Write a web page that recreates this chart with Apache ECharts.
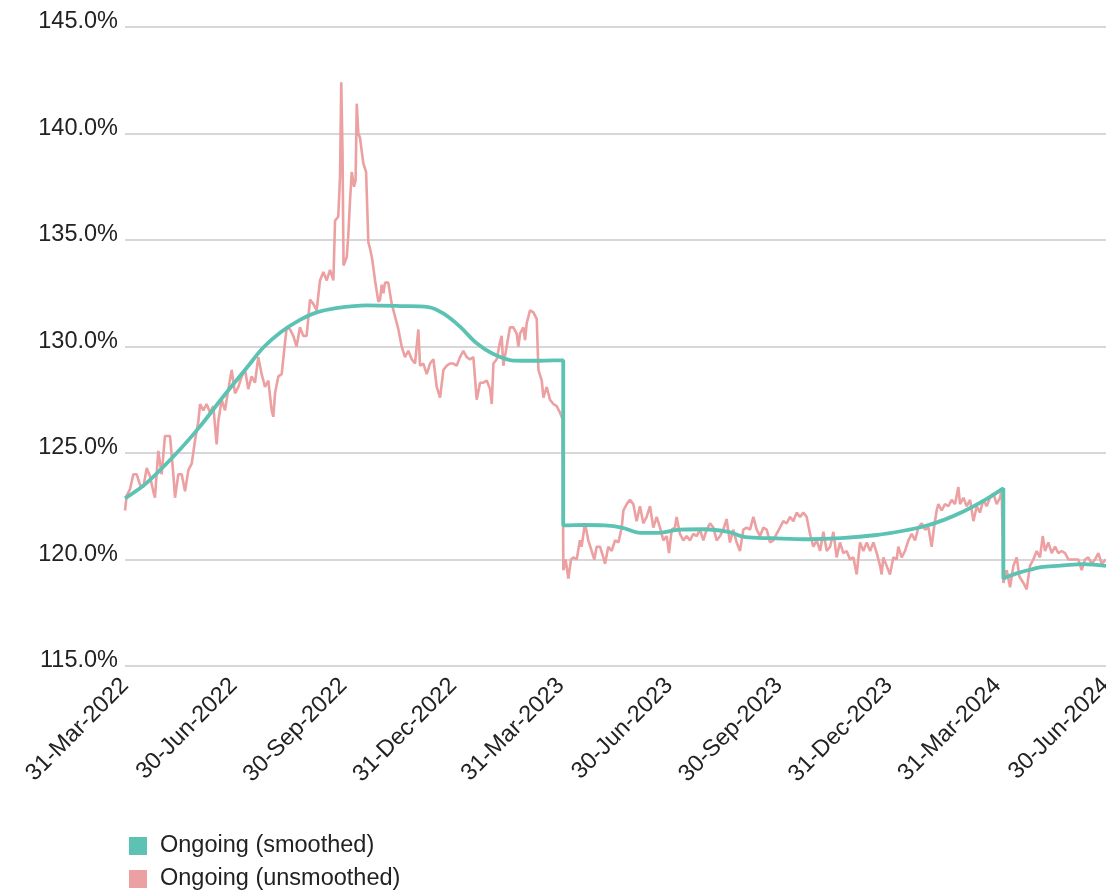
<!DOCTYPE html>
<html>
<head>
<meta charset="utf-8">
<script src="https://cdn.jsdelivr.net/npm/echarts@6/dist/echarts.min.js"></script>
<style>
html,body{margin:0;padding:0;background:#fff;}
#chart{width:1106px;height:894px;}
</style>
</head>
<body>
<div id="chart"></div>
<script>
// Day offsets are counted from 31-Mar-2022 (day 0).
const startDate = [2022, 2, 31];
const tickDays = [0, 91, 183, 275, 365, 456, 548, 640, 731, 822];
const monthNames = ['Jan','Feb','Mar','Apr','May','Jun','Jul','Aug','Sep','Oct','Nov','Dec'];
const yTicks = [115, 120, 125, 130, 135, 140, 145];
const seriesNames = ['Ongoing (smoothed)', 'Ongoing (unsmoothed)'];

// [day offset, value %]
const smoothed = [
[0,122.87],[18.2,123.6],[43.3,125.0],[62.9,126.25],[82.4,127.65],[102,129.0],[115.9,129.95],[129.9,130.65],
[146.6,131.25],[160.6,131.6],[174.6,131.78],[202.5,131.93],[230.5,131.9],[254.2,131.85],[266.7,131.55],[280.7,130.93],
[294.7,130.15],[308.6,129.65],[325.4,129.34],[345,129.33],[358.9,129.35],[366,129.35],[367.2,129.35],[367.2,121.6],
[368.5,121.6],[385,121.62],[402.2,121.6],[416.2,121.5],[432,121.25],[445,121.25],[465,121.4],[485,121.42],
[505.5,121.3],[520,121.05],[541.8,121.0],[572.6,120.95],[600,121.0],[629.9,121.15],[652.2,121.35],[669,121.55],
[685.7,121.85],[702.5,122.25],[719.2,122.75],[734.8,123.3],[736,123.35],[736,119.1],[737.5,119.15],[747.2,119.35],
[758.3,119.52],[769.5,119.65],[786.3,119.72],[803,119.78],[822,119.7]
];

const unsmoothed = [
[0,122.3],[1.4,123.0],[4.2,123.3],[7,124.0],[9.8,124.0],[12.6,123.5],[15.4,123.4],[18.2,124.3],[21,123.9],[23.7,123.2],
[25.1,122.9],[27.9,125.1],[30.7,124.0],[33.5,125.8],[37.7,125.8],[40.5,124.0],[41.9,122.9],[44.7,124.0],[47.5,124.0],[50.3,123.2],
[53.1,124.2],[55.9,124.5],[58.7,125.6],[61.5,126.5],[62.9,127.3],[65.6,127.0],[68.4,127.3],[71.2,126.9],[74,127.2],[76.8,125.4],
[78.2,126.5],[81,127.5],[83.8,127.0],[86.6,128.0],[89.4,128.9],[92.2,127.8],[95,128.1],[97.8,128.6],[100.6,128.9],[103.3,128.0],
[106.1,128.6],[108.9,128.3],[111.7,129.5],[114.5,128.7],[117.3,128.1],[120.1,128.4],[122.9,127.0],[124.3,126.7],[125.7,127.8],[128.5,128.6],
[131.3,128.7],[134.1,130.2],[135.5,130.9],[138.3,130.8],[141,130.5],[143.8,130.0],[146.6,130.9],[149.4,130.5],[152.2,130.5],[155,132.2],
[157.8,132.0],[160.6,131.7],[163.4,133.1],[166.2,133.5],[169,133.1],[171.8,133.6],[174.6,133.1],[176,135.9],[178.7,136.1],[180.2,138.0],
[181.2,142.4],[182.3,139.0],[183.1,133.8],[185.8,134.2],[187.1,135.2],[188.6,136.9],[190,138.2],[191.9,137.5],[193.2,137.8],[194.2,141.4],
[195.5,140.0],[196.9,139.8],[199.7,138.6],[202,138.2],[203.9,134.9],[205.3,134.6],[206.8,134.2],[208.1,133.7],[209.5,133.1],[210.9,132.6],
[212.3,132.1],[213.7,132.2],[215.1,132.9],[216.5,132.5],[217.9,133.0],[220.6,133.0],[223.5,132.0],[226.3,131.4],[229.1,130.8],[231.8,130.0],
[234.6,129.5],[237.4,129.8],[240.2,129.4],[243,129.2],[245.8,130.8],[247.2,129.1],[250,129.2],[252.8,128.7],[255.6,129.2],[258.4,129.4],
[261.2,128.1],[264,127.6],[266.8,128.9],[269.6,129.1],[272.3,129.2],[275.1,129.2],[277.9,129.1],[280.7,129.5],[283.5,129.8],[286.3,129.5],
[289.1,129.4],[291.9,129.5],[294.7,127.5],[297.5,128.3],[300.3,128.3],[303.1,128.4],[305.9,128.0],[307.3,127.3],[308.7,129.2],[311.5,129.4],
[314.2,130.2],[315.6,130.5],[317,129.1],[319.8,130.0],[322.6,130.9],[325.4,130.9],[328.2,130.6],[329.6,130.0],[331,130.6],[333.8,130.9],
[335.2,130.3],[336.6,131.1],[339.4,131.7],[342.2,131.6],[345,131.3],[346.4,128.9],[349.2,128.4],[350.6,127.6],[353.4,128.1],[356.1,127.5],
[358.9,127.3],[361.7,127.2],[364.5,126.9],[366.6,126.6],[367.3,119.5],[369.2,120.0],[371.5,119.1],[373.7,120.0],[375.7,120.1],[378.5,120.0],
[381.2,120.9],[382.6,120.6],[385.4,121.7],[388.2,120.9],[391,120.4],[393.3,120.0],[395.2,120.6],[398,120.6],[400.8,120.1],[402.2,119.8],
[405,120.6],[407.8,120.4],[410.6,120.9],[413.4,120.8],[416.2,121.5],[417.6,122.3],[420.4,122.6],[423.1,122.8],[425.9,122.6],[428.7,121.8],
[431.5,122.5],[434.3,121.7],[437.1,122.0],[439.9,122.5],[442.7,121.5],[445.5,122.0],[448.3,121.5],[451.1,120.9],[453.9,121.1],[455.8,120.3],
[458.1,121.4],[460.8,121.5],[462.2,122.0],[465,121.2],[467.8,120.9],[470.6,121.1],[473.4,120.9],[476.2,121.2],[479,121.1],[481.8,121.4],
[484.6,120.9],[487.4,121.4],[490.2,121.7],[493,121.5],[495.8,120.9],[498.6,121.1],[501.3,121.4],[504.1,121.9],[506.9,120.8],[509.7,121.4],
[512.5,120.8],[515.3,120.4],[518.1,121.4],[520.9,121.5],[523.7,121.4],[526.5,122.0],[529.3,121.4],[532.1,121.1],[534.9,121.5],[537.7,121.4],
[540.5,120.8],[543.2,120.9],[546,121.2],[548.8,121.5],[551.6,121.8],[554.4,121.7],[557.2,122.0],[560,121.8],[562.8,122.2],[565.6,122.0],
[568.4,122.2],[571.2,122.0],[574,121.2],[576.8,120.6],[579.6,120.9],[582.4,120.4],[585.2,121.3],[588,120.4],[590.8,120.6],[593.6,121.3],
[596.3,120.1],[599.1,120.8],[601.9,120.3],[604.7,120.4],[607.5,120.0],[610.3,120.1],[613.1,119.3],[615.9,120.8],[618.7,120.4],[621.5,120.8],
[624.3,120.4],[627.1,120.8],[629.9,120.3],[632.7,119.7],[634,119.3],[635.4,120.1],[638.2,119.7],[641,119.3],[643.8,120.1],[646.6,120.0],
[648,120.6],[650.8,120.1],[653.6,120.4],[656.4,120.9],[659.2,121.2],[662,120.9],[664.8,121.5],[667.6,121.7],[670.4,121.4],[673.2,121.5],
[675.9,120.6],[677.9,121.5],[680.1,122.3],[681.5,122.6],[684.3,122.3],[687.1,122.6],[689.9,122.5],[692.7,122.8],[695.5,122.6],[698.3,123.4],
[699.7,122.6],[702.5,122.9],[705.3,122.5],[708.1,122.8],[710.9,121.8],[713.7,122.5],[716.4,122.2],[719.2,122.8],[722,122.5],[724.8,122.9],
[727.6,123.1],[730.4,122.6],[733.2,122.9],[734.6,123.3],[736,118.9],[738.8,119.5],[741.6,118.7],[744.4,119.7],[747.2,120.1],[749.4,119.2],
[752.8,118.9],[755.5,118.6],[758.3,119.7],[761.1,120.0],[763.9,120.4],[766.7,120.1],[769,121.1],[770.9,120.4],[773.7,120.8],[776.5,120.3],
[779.3,120.6],[782.1,120.3],[784.9,120.4],[787.7,120.3],[790.5,120.0],[793.3,120.0],[796,120.0],[798.8,120.0],[801.6,119.5],[804.4,120.0],
[807.2,120.1],[810,119.8],[812.8,120.0],[815.6,120.3],[818.4,119.8],[822,120.0]
];

const colors = { smoothed: '#5cc3b4', unsmoothed: '#eca0a1' };
const FONT = 'Liberation Sans';

function dayLabel(d) {
  const t = Date.UTC(startDate[0], startDate[1], startDate[2]) + Math.round(d) * 86400000;
  const dt = new Date(t);
  return dt.getUTCDate() + '-' + monthNames[dt.getUTCMonth()] + '-' + dt.getUTCFullYear();
}

const chart = echarts.init(document.getElementById('chart'), null, { renderer: 'canvas' });
chart.setOption({
  animation: false,
  backgroundColor: '#ffffff',
  textStyle: { fontFamily: FONT },
  grid: { left: 125, right: 0, top: 27, bottom: 228, containLabel: false, outerBoundsMode: 'none' },
  legend: {
    orient: 'vertical',
    left: 129,
    top: 834,
    padding: 0,
    icon: 'rect',
    itemWidth: 18,
    itemHeight: 18,
    itemGap: 9,
    textStyle: { fontFamily: FONT, fontSize: 23.5, color: '#222', padding: [0, 0, 0, 8], lineHeight: 24 },
    data: seriesNames
  },
  xAxis: {
    type: 'value',
    min: tickDays[0],
    max: tickDays[tickDays.length - 1],
    axisLine: { show: false },
    axisTick: { show: false },
    splitLine: { show: false },
    axisLabel: {
      customValues: tickDays,
      rotate: 45,
      margin: 16,
      fontFamily: FONT,
      fontSize: 23.5,
      color: '#222',
      hideOverlap: false,
      formatter: (v) => dayLabel(v)
    }
  },
  yAxis: {
    type: 'value',
    min: yTicks[0],
    max: yTicks[yTicks.length - 1],
    interval: 5,
    axisLine: { show: false },
    axisTick: { show: false },
    splitLine: { lineStyle: { color: '#cacaca', width: 1.6 } },
    axisLabel: {
      margin: 7,
      fontFamily: FONT,
      fontSize: 23.5,
      color: '#222',
      verticalAlign: 'bottom',
      lineHeight: 10,
      formatter: (v) => v.toFixed(1) + '%'
    }
  },
  series: [
    {
      name: seriesNames[0],
      type: 'line',
      data: smoothed,
      showSymbol: false,
      smooth: 0.35,
      z: 3,
      itemStyle: { color: colors.smoothed },
      lineStyle: { color: colors.smoothed, width: 3.8 }
    },
    {
      name: seriesNames[1],
      type: 'line',
      data: unsmoothed,
      showSymbol: false,
      smooth: false,
      z: 2,
      itemStyle: { color: colors.unsmoothed },
      lineStyle: { color: colors.unsmoothed, width: 2.6 }
    }
  ]
});
</script>
</body>
</html>
